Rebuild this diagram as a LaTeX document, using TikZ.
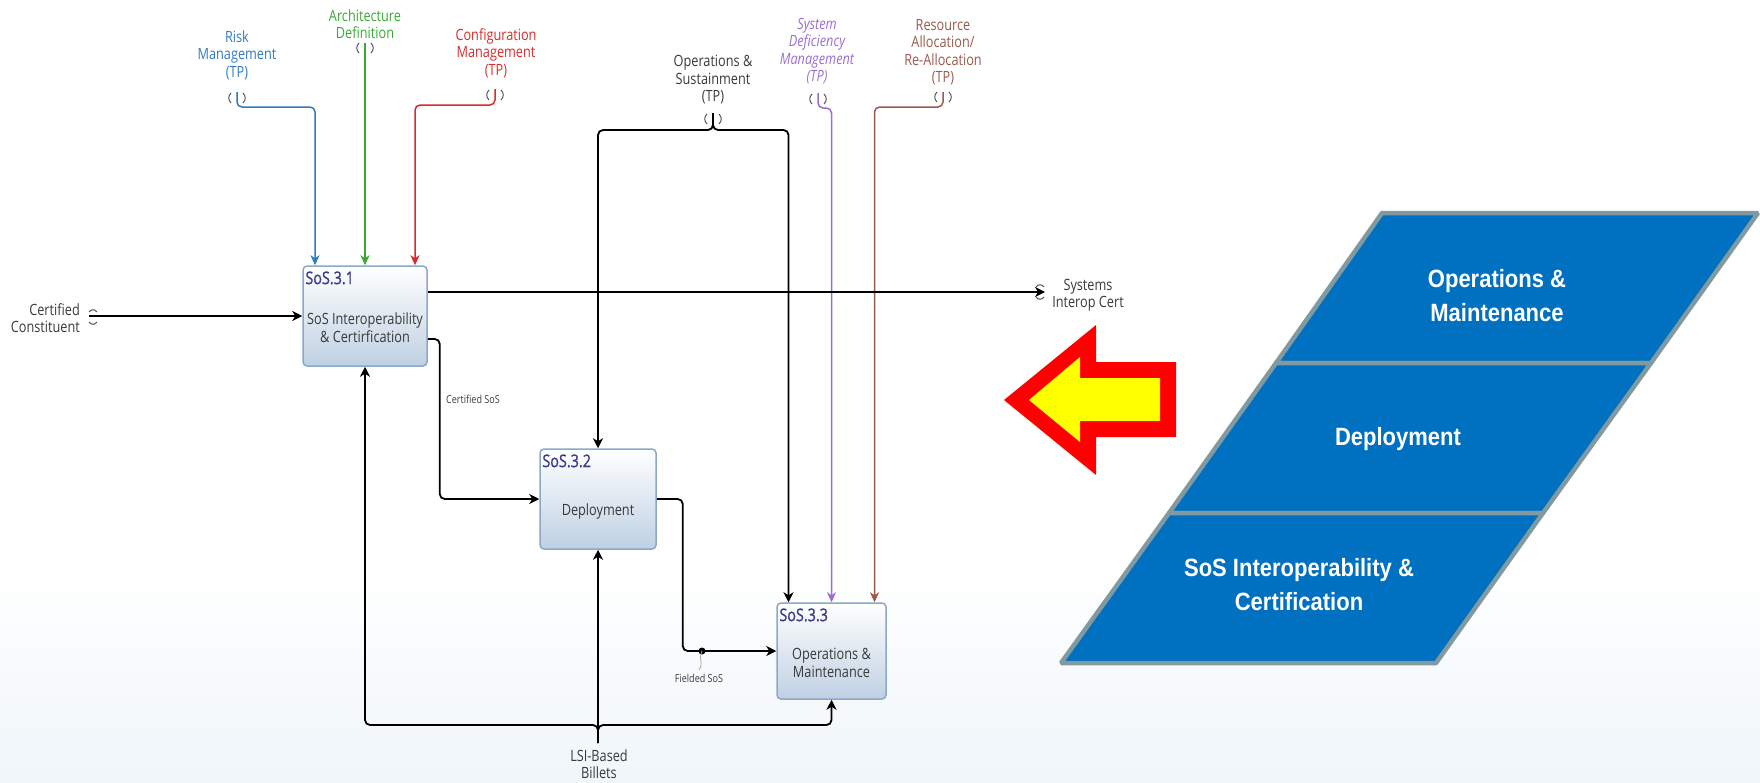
\documentclass[tikz,border=0pt]{standalone}
\usepackage{fontspec}
\setmainfont{Open Sans}[FakeStretch=0.82]
\newfontfamily\idfont{Open Sans}[FakeStretch=0.82,FakeBold=1]
\newfontfamily\bandfont{Liberation Sans}[FakeStretch=0.88]
\usetikzlibrary{arrows.meta,calc}

\definecolor{riskblue}{HTML}{2F7BC0}
\definecolor{archgreen}{HTML}{3AAA35}
\definecolor{cfgred}{HTML}{D92B2B}
\definecolor{sdpurple}{HTML}{9A6DD4}
\definecolor{rabrown}{HTML}{9A5A4E}
\definecolor{boxedge}{HTML}{8CA8C8}
\definecolor{boxlow}{HTML}{BFD0E3}
\definecolor{idnum}{HTML}{3B3A8A}
\definecolor{txtgray}{HTML}{3A3A3A}
\definecolor{tungray}{HTML}{555555}
\definecolor{bandblue}{HTML}{0070C0}
\definecolor{bandedge}{HTML}{8199A0}
\definecolor{arrred}{HTML}{FF0000}
\definecolor{arryel}{HTML}{FFFF00}
\definecolor{bgblue}{HTML}{F0F6FA}

\begin{document}
\begin{tikzpicture}[x=1pt,y=-1pt,
  conn/.style={draw=black, line width=1.8pt, rounded corners=5pt,
    -{Stealth[length=10pt,width=10pt,inset=3pt]}},
  cconn/.style={line width=1.5pt, rounded corners=5pt,
    -{Stealth[length=10pt,width=9pt,inset=3pt]}},
  procbox/.style={draw=boxedge, line width=1.5pt, rounded corners=4pt,
    top color=white, bottom color=boxlow, inner sep=0pt},
  idf/.style={font=\idfont\fontsize{17.5}{17.5}\selectfont, text=idnum, inner sep=0pt, anchor=north west},
  boxtxt/.style={font=\fontsize{15.5}{18}\selectfont, text=txtgray, align=center, inner sep=0pt},
  lbl/.style={font=\fontsize{15.5}{17.5}\selectfont, text=txtgray, align=center, inner sep=0pt},
  smalllbl/.style={font=\fontsize{11}{13}\selectfont, text=txtgray, inner sep=0pt},
  band/.style={fill=bandblue, draw=bandedge, line width=4.5pt, line join=bevel},
  bandtxt/.style={font=\bandfont\fontsize{25}{34}\selectfont\bfseries, text=white, align=center, inner sep=0pt},
  tunnel/.style={draw=tungray, line width=1pt},
  vtun/.pic={\draw[tunnel] (-6,-5) .. controls (-9,-2) and (-9,2) .. (-6,5);
             \draw[tunnel] (6,-5) .. controls (9,-2) and (9,2) .. (6,5);},
  htun/.pic={\draw[tunnel] (-4,-5) .. controls (-2,-8) and (2,-8) .. (4,-5);
             \draw[tunnel] (-4,5) .. controls (-2,8) and (2,8) .. (4,5);}
]
\useasboundingbox (0,0) rectangle (1760,782);
\fill[top color=white, bottom color=bgblue] (0,560) rectangle (1760,782);

% activity boxes
\node[procbox, minimum width=124pt, minimum height=100pt] (b1) at (365,316) {};
\node[procbox, minimum width=116pt, minimum height=100pt] (b2) at (598,499) {};
\node[procbox, minimum width=109pt, minimum height=96pt] (b3) at (831.5,651) {};

\node[idf] (b1id) at ($(b1.north west)+(3,6)$) {SoS.3.1};
\node[idf] (b2id) at ($(b2.north west)+(3,6)$) {SoS.3.2};
\node[idf] (b3id) at ($(b3.north west)+(3,6)$) {SoS.3.3};
\node[boxtxt] (b1tx) at ($(b1.center)+(0,12)$) {SoS Interoperability\\\& Certirfication};
\node[boxtxt] (b2tx) at ($(b2.center)+(0,12)$) {Deployment};
\node[boxtxt] (b3tx) at ($(b3.center)+(0,12)$) {Operations \&\\Maintenance};

% boundary labels
\node[lbl, text=riskblue] (rkl) at (237,55) {Risk\\Management\\(TP)};
\node[lbl, text=archgreen] (arl) at (365,24) {Architecture\\Definition};
\node[lbl, text=cfgred] (cfl) at (496,53) {Configuration\\Management\\(TP)};
\node[lbl] (osl) at (713,80) {Operations \&\\Sustainment\\(TP)};
\node[lbl, text=sdpurple, font=\fontsize{15.5}{17.5}\selectfont\itshape] (sdl) at (817,51) {System\\Deficiency\\Management\\(TP)};
\node[lbl, text=rabrown] (ral) at (943,52) {Resource\\Allocation/\\Re-Allocation\\(TP)};
\node[lbl, align=right, anchor=east] (ccl) at (80,318) {Certified\\Constituent};
\node[lbl] (sicl) at (1088,295) {Systems\\Interop Cert};
\node[lbl] (lsil) at (599,764) {LSI-Based\\Billets};
\node[smalllbl, anchor=west] (csl) at (446,399) {Certified SoS};
\node[smalllbl] (fsl) at (699,678) {Fielded SoS};

% tunnel ends
\coordinate (rk) at (237,92);
\coordinate (ar) at (365,43);
\coordinate (cf) at (495,89);
\coordinate (os) at (713,113);
\coordinate (osj) at (713,130);
\coordinate (sd) at (818,93);
\coordinate (ra) at (943,92);
\coordinate (cc) at (89,316);
\coordinate (sic) at (1045,292);
\coordinate (lsi) at (598,743);
\coordinate (lsj) at (598,725);
\coordinate (fs) at (702,651);

\pic at (237,98) {vtun};
\pic at (365,48) {vtun};
\pic at (495,95) {vtun};
\pic at (713,119) {vtun};
\pic at (818,99) {vtun};
\pic at (943,97) {vtun};
\pic at (93,317) {htun};
\pic at (1040,292) {htun};

% controls
\draw[cconn, riskblue] (rk) -- ++(0,15) -| ([xshift=-50pt]b1.north);
\draw[cconn, archgreen] (ar) -- (b1.north);
\draw[cconn, cfgred] (cf) -- ++(0,16) -| ([xshift=50pt]b1.north);
\draw[conn] (os) -- (osj) -| (b2.north);
\draw[conn] (os) -- (osj) -| ([xshift=-43pt]b3.north);
\draw[cconn, sdpurple] (sd) -- ++(0,15) -| (b3.north);
\draw[cconn, rabrown] (ra) -- ++(0,15) -| ([xshift=43pt]b3.north);

% inputs and outputs
\draw[conn] (cc) -- (b1.west);
\draw[conn] ([yshift=24pt]b1.east) -- (sic);
\draw[conn] ([yshift=-23pt]b1.east) -- ++(12,0) |- (b2.west);
\draw[conn] (b2.east) -- ++(26,0) |- (b3.west);
\fill (fs) circle (3.5pt);
\draw[gray!70, line width=0.8pt] (fs) .. controls (698,660) and (704,663) .. (699,670);

% mechanisms
\draw[conn] (lsi) -- (b2.south);
\draw[conn] (lsi) -- (lsj) -| (b1.south);
\draw[conn] (lsi) -- (lsj) -| (b3.south);

% left-pointing highlight arrow
\fill[arrred] (1004,400) -- (1096,325) -- (1096,362) -- (1176,362) -- (1176,437) -- (1096,437) -- (1096,475) -- cycle;
\fill[arryel] (1029,400) -- (1080,357) -- (1080,378) -- (1160,378) -- (1160,421) -- (1080,421) -- (1080,442) -- cycle;

% stacked phase bands
\filldraw[band] (1382,213) -- (1758,213) -- (1651,363) -- (1276,363) -- cycle;
\filldraw[band] (1276,363) -- (1651,363) -- (1543,513) -- (1169,513) -- cycle;
\filldraw[band] (1169,513) -- (1543,513) -- (1436,663) -- (1061,663) -- cycle;
\node[bandtxt] (bt1) at (1497,296) {Operations \&\\Maintenance};
\node[bandtxt] (bt2) at (1398,439) {Deployment};
\node[bandtxt] (bt3) at (1299,585) {SoS Interoperability \&\\Certification};
\end{tikzpicture}
\end{document}
